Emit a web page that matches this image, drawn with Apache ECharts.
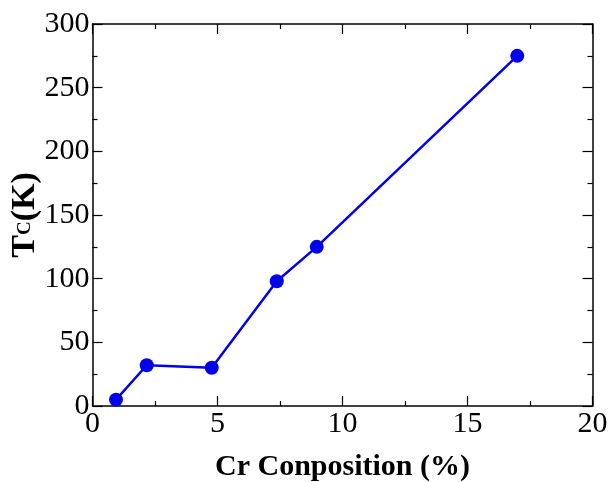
<!DOCTYPE html>
<html>
<head>
<meta charset="utf-8">
<script src="https://cdn.jsdelivr.net/npm/echarts@6/dist/echarts.min.js"></script>
<style>
  html, body { margin: 0; padding: 0; background: #fff; }
  #chart { width: 609px; height: 482px; }
</style>
</head>
<body>
<div id="chart"></div>
<script>
// Curie temperature versus Cr composition
const crComposition = [0.94, 2.17, 4.77, 7.37, 8.97, 16.99];
const curieTemp = [5, 32, 30, 98, 125, 275];
const xTicks = { min: 0, max: 20, interval: 5 };
const yTicks = { min: 0, max: 300, interval: 50 };
const xTitle = 'Cr Conposition (%)';

const serif = '"Liberation Serif", "DejaVu Serif", serif';
const frame = { show: true, onZero: false, lineStyle: { color: '#000', width: 1.5 } };
const majorTick = { show: true, inside: true, length: 10, lineStyle: { color: '#000', width: 1.2 } };
const minorTick = { show: true, splitNumber: 2, length: 5, lineStyle: { color: '#000', width: 1.2 } };

const chart = echarts.init(document.getElementById('chart'), null, { renderer: 'canvas' });
chart.setOption({
  animation: false,
  backgroundColor: '#fff',
  grid: { left: 92.5, right: 16.5, top: 24, bottom: 76, outerBoundsMode: 'none', containLabel: false },
  xAxis: [
    {
      type: 'value', position: 'bottom',
      min: xTicks.min, max: xTicks.max, interval: xTicks.interval,
      axisLine: frame, axisTick: majorTick, minorTick: minorTick,
      splitLine: { show: false },
      axisLabel: { fontFamily: serif, fontSize: 30, color: '#000', margin: 3 },
      name: xTitle, nameLocation: 'middle', nameGap: 46, nameMoveOverlap: false,
      nameTextStyle: { fontFamily: serif, fontSize: 30, fontWeight: 'bold', color: '#000' }
    },
    {
      type: 'value', position: 'top',
      min: xTicks.min, max: xTicks.max, interval: xTicks.interval,
      axisLine: frame, axisTick: majorTick, minorTick: minorTick,
      splitLine: { show: false }, axisLabel: { show: false }
    }
  ],
  yAxis: [
    {
      type: 'value', position: 'left',
      min: yTicks.min, max: yTicks.max, interval: yTicks.interval,
      axisLine: frame, axisTick: majorTick, minorTick: minorTick,
      splitLine: { show: false },
      axisLabel: { fontFamily: serif, fontSize: 30, color: '#000', margin: 3 },
      name: '{t|T}{c|C}{t|(K)}', nameLocation: 'middle', nameGap: 50, nameRotate: 90,
      nameMoveOverlap: false,
      nameTextStyle: {
        rich: {
          t: { fontFamily: serif, fontSize: 34, fontWeight: 'bold', color: '#000' },
          c: { fontFamily: serif, fontSize: 19, fontWeight: 'bold', color: '#000' }
        }
      }
    },
    {
      type: 'value', position: 'right',
      min: yTicks.min, max: yTicks.max, interval: yTicks.interval,
      axisLine: frame, axisTick: majorTick, minorTick: minorTick,
      splitLine: { show: false }, axisLabel: { show: false }
    }
  ],
  series: [
    {
      type: 'line',
      xAxisIndex: 0, yAxisIndex: 0,
      data: crComposition.map((x, i) => [x, curieTemp[i]]),
      symbol: 'circle', symbolSize: 14,
      lineStyle: { color: '#0000ee', width: 2.5 },
      itemStyle: { color: '#0000ee' }
    }
  ]
});
</script>
</body>
</html>
